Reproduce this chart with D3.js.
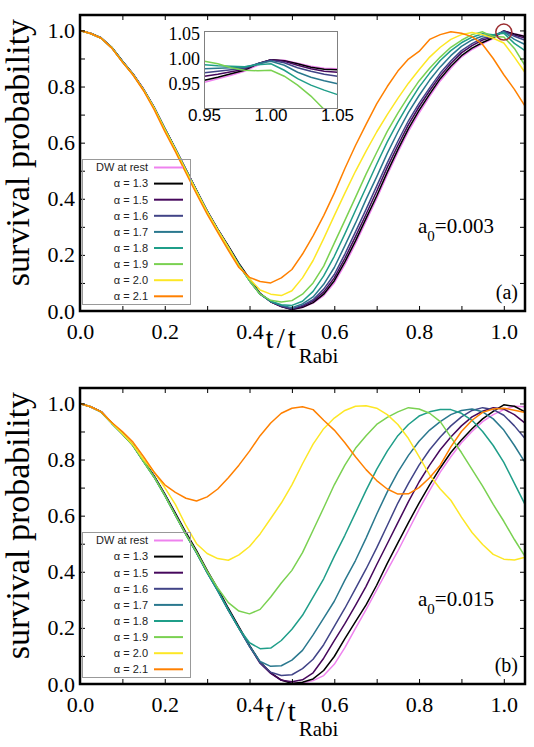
<!DOCTYPE html>
<html>
<head>
<meta charset="UTF-8">
<title>survival probability</title>
<script src="https://cdn.jsdelivr.net/npm/d3@7"></script>
<style>
body { margin: 0; background: #fff; }
svg { display: block; }
</style>
</head>
<body>
<div id="chart"></div>
<script>
// time axis, t/t_Rabi
var tValues = [0, 0.025, 0.05, 0.075, 0.1, 0.125, 0.15, 0.175, 0.2, 0.225, 0.25, 0.275, 0.3, 0.325, 0.35, 0.375, 0.4, 0.425, 0.45, 0.475, 0.5,
  0.525, 0.55, 0.575, 0.6, 0.625, 0.65, 0.675, 0.7, 0.725, 0.75, 0.775, 0.8, 0.825, 0.85, 0.875, 0.9, 0.925, 0.95, 0.975, 1.0, 1.025, 1.05];

var seriesNames = ["DW at rest", "\u03b1 = 1.3", "\u03b1 = 1.5", "\u03b1 = 1.6", "\u03b1 = 1.7", "\u03b1 = 1.8", "\u03b1 = 1.9", "\u03b1 = 2.0", "\u03b1 = 2.1"];
var seriesColors = ["#ee82ee", "#000000", "#46085c", "#414487", "#2a788e", "#1f9e89", "#7ad151", "#fde725", "#ff8000"];

// panel (a), a0 = 0.003
var aRest = [1.000, 0.990, 0.972, 0.938, 0.890, 0.846, 0.792, 0.727, 0.652, 0.580, 0.506, 0.431, 0.358, 0.292, 0.230, 0.166, 0.108, 0.062, 0.034, 0.017, 0.006, 0.012, 0.028, 0.055, 0.100, 0.165, 0.240, 0.320, 0.400, 0.485, 0.565, 0.640, 0.705, 0.765, 0.820, 0.865, 0.905, 0.932, 0.953, 0.971, 0.998, 0.988, 0.980];
var a13 = [1.000, 0.990, 0.974, 0.940, 0.891, 0.845, 0.790, 0.725, 0.650, 0.578, 0.503, 0.429, 0.357, 0.292, 0.232, 0.170, 0.115, 0.063, 0.033, 0.016, 0.005, 0.013, 0.030, 0.060, 0.108, 0.175, 0.250, 0.330, 0.410, 0.495, 0.575, 0.650, 0.715, 0.773, 0.828, 0.872, 0.910, 0.937, 0.957, 0.974, 0.998, 0.987, 0.978];
var a15 = [1.000, 0.989, 0.973, 0.939, 0.890, 0.845, 0.790, 0.726, 0.651, 0.579, 0.504, 0.430, 0.356, 0.291, 0.229, 0.166, 0.110, 0.061, 0.033, 0.016, 0.006, 0.016, 0.035, 0.068, 0.118, 0.188, 0.265, 0.345, 0.427, 0.512, 0.590, 0.664, 0.728, 0.785, 0.838, 0.882, 0.920, 0.946, 0.966, 0.977, 0.998, 0.984, 0.973];
var a16 = [1.000, 0.989, 0.972, 0.939, 0.889, 0.844, 0.789, 0.725, 0.650, 0.578, 0.503, 0.429, 0.355, 0.290, 0.228, 0.165, 0.109, 0.060, 0.034, 0.018, 0.008, 0.020, 0.040, 0.078, 0.130, 0.203, 0.282, 0.362, 0.445, 0.528, 0.605, 0.678, 0.740, 0.795, 0.848, 0.891, 0.928, 0.953, 0.972, 0.980, 0.997, 0.979, 0.965];
var a17 = [1.000, 0.989, 0.972, 0.938, 0.889, 0.844, 0.789, 0.724, 0.649, 0.577, 0.502, 0.428, 0.354, 0.289, 0.227, 0.164, 0.108, 0.060, 0.034, 0.020, 0.012, 0.025, 0.050, 0.095, 0.155, 0.233, 0.313, 0.398, 0.478, 0.562, 0.638, 0.708, 0.768, 0.823, 0.870, 0.910, 0.943, 0.966, 0.980, 0.983, 0.995, 0.968, 0.950];
var a18 = [1.000, 0.989, 0.972, 0.938, 0.889, 0.843, 0.788, 0.724, 0.649, 0.577, 0.502, 0.427, 0.354, 0.289, 0.227, 0.164, 0.108, 0.060, 0.035, 0.022, 0.020, 0.035, 0.070, 0.125, 0.195, 0.275, 0.358, 0.440, 0.523, 0.603, 0.673, 0.738, 0.798, 0.848, 0.893, 0.928, 0.956, 0.976, 0.988, 0.985, 0.990, 0.954, 0.928];
var a19 = [1.000, 0.989, 0.972, 0.938, 0.888, 0.843, 0.788, 0.723, 0.648, 0.576, 0.501, 0.427, 0.353, 0.288, 0.226, 0.163, 0.108, 0.060, 0.038, 0.032, 0.037, 0.060, 0.100, 0.160, 0.242, 0.323, 0.405, 0.488, 0.565, 0.640, 0.705, 0.765, 0.820, 0.865, 0.905, 0.940, 0.965, 0.985, 0.995, 0.978, 0.977, 0.936, 0.875];
var a20 = [1.000, 0.989, 0.972, 0.938, 0.888, 0.843, 0.788, 0.723, 0.647, 0.575, 0.500, 0.426, 0.353, 0.288, 0.227, 0.160, 0.115, 0.075, 0.060, 0.055, 0.072, 0.118, 0.180, 0.258, 0.340, 0.420, 0.498, 0.570, 0.638, 0.700, 0.758, 0.812, 0.860, 0.905, 0.940, 0.968, 0.985, 0.993, 0.985, 0.972, 0.955, 0.905, 0.850];
var a21 = [1.000, 0.989, 0.972, 0.937, 0.887, 0.841, 0.785, 0.718, 0.640, 0.568, 0.492, 0.417, 0.345, 0.280, 0.216, 0.155, 0.120, 0.105, 0.100, 0.118, 0.148, 0.203, 0.268, 0.340, 0.420, 0.508, 0.590, 0.665, 0.738, 0.800, 0.855, 0.898, 0.925, 0.968, 0.985, 0.995, 0.990, 0.978, 0.950, 0.900, 0.842, 0.790, 0.730];

// panel (b), a0 = 0.015
var bRest = [1.000, 0.988, 0.970, 0.931, 0.893, 0.852, 0.796, 0.741, 0.677, 0.607, 0.538, 0.472, 0.403, 0.338, 0.268, 0.202, 0.137, 0.077, 0.040, 0.015, 0.004, 0.004, 0.012, 0.030, 0.070, 0.130, 0.198, 0.265, 0.335, 0.405, 0.474, 0.548, 0.622, 0.690, 0.755, 0.810, 0.860, 0.900, 0.935, 0.960, 0.978, 0.990, 0.988];
var b13 = [1.000, 0.988, 0.971, 0.930, 0.893, 0.853, 0.797, 0.742, 0.678, 0.609, 0.540, 0.475, 0.405, 0.340, 0.270, 0.204, 0.138, 0.078, 0.040, 0.014, 0.002, 0.006, 0.018, 0.048, 0.098, 0.162, 0.222, 0.282, 0.352, 0.430, 0.503, 0.575, 0.645, 0.710, 0.770, 0.825, 0.870, 0.910, 0.945, 0.972, 0.995, 0.990, 0.970];
var b15 = [1.000, 0.988, 0.970, 0.930, 0.892, 0.851, 0.794, 0.739, 0.674, 0.604, 0.534, 0.469, 0.399, 0.334, 0.264, 0.199, 0.134, 0.074, 0.038, 0.013, 0.008, 0.015, 0.040, 0.092, 0.155, 0.215, 0.280, 0.348, 0.425, 0.500, 0.575, 0.650, 0.720, 0.780, 0.835, 0.880, 0.920, 0.952, 0.972, 0.985, 0.980, 0.960, 0.930];
var b16 = [1.000, 0.988, 0.970, 0.930, 0.892, 0.851, 0.794, 0.738, 0.673, 0.603, 0.533, 0.468, 0.398, 0.333, 0.263, 0.199, 0.134, 0.076, 0.042, 0.030, 0.033, 0.055, 0.088, 0.140, 0.205, 0.270, 0.340, 0.410, 0.485, 0.565, 0.645, 0.715, 0.780, 0.835, 0.880, 0.920, 0.952, 0.975, 0.985, 0.978, 0.958, 0.920, 0.875];
var b17 = [1.000, 0.988, 0.969, 0.929, 0.891, 0.850, 0.793, 0.737, 0.672, 0.602, 0.532, 0.467, 0.397, 0.332, 0.262, 0.198, 0.135, 0.080, 0.063, 0.065, 0.085, 0.120, 0.175, 0.235, 0.295, 0.370, 0.440, 0.520, 0.605, 0.685, 0.755, 0.815, 0.865, 0.905, 0.935, 0.960, 0.975, 0.980, 0.970, 0.945, 0.905, 0.850, 0.790];
var b18 = [1.000, 0.988, 0.969, 0.929, 0.891, 0.850, 0.793, 0.737, 0.672, 0.602, 0.532, 0.467, 0.397, 0.333, 0.265, 0.198, 0.147, 0.126, 0.128, 0.155, 0.195, 0.245, 0.310, 0.375, 0.455, 0.530, 0.610, 0.690, 0.765, 0.830, 0.885, 0.925, 0.955, 0.970, 0.978, 0.978, 0.965, 0.940, 0.900, 0.850, 0.790, 0.715, 0.640];
var b19 = [1.000, 0.988, 0.969, 0.929, 0.891, 0.850, 0.793, 0.737, 0.672, 0.602, 0.533, 0.470, 0.402, 0.342, 0.290, 0.260, 0.250, 0.266, 0.310, 0.360, 0.405, 0.468, 0.548, 0.628, 0.710, 0.780, 0.840, 0.885, 0.925, 0.950, 0.970, 0.985, 0.980, 0.965, 0.935, 0.880, 0.825, 0.765, 0.705, 0.640, 0.580, 0.515, 0.455];
var b20 = [1.000, 0.988, 0.970, 0.930, 0.893, 0.853, 0.800, 0.755, 0.700, 0.640, 0.565, 0.500, 0.465, 0.447, 0.441, 0.460, 0.490, 0.535, 0.590, 0.645, 0.710, 0.785, 0.855, 0.910, 0.948, 0.975, 0.990, 0.992, 0.983, 0.960, 0.925, 0.875, 0.810, 0.745, 0.695, 0.655, 0.595, 0.540, 0.497, 0.462, 0.445, 0.442, 0.452];
var b21 = [1.000, 0.988, 0.970, 0.932, 0.900, 0.862, 0.810, 0.755, 0.710, 0.683, 0.662, 0.652, 0.667, 0.695, 0.735, 0.780, 0.830, 0.885, 0.930, 0.965, 0.983, 0.988, 0.978, 0.940, 0.905, 0.860, 0.810, 0.764, 0.725, 0.695, 0.677, 0.678, 0.700, 0.735, 0.780, 0.845, 0.900, 0.940, 0.968, 0.980, 0.983, 0.976, 0.968];

// inset of panel (a), around t = 1
var insetT = [0.95, 0.96, 0.97, 0.98, 0.99, 1.00, 1.01, 1.02, 1.03, 1.04, 1.05];
var insRest = [0.953, 0.960, 0.967, 0.975, 0.987, 0.998, 0.997, 0.991, 0.985, 0.981, 0.980];
var ins13 = [0.957, 0.963, 0.970, 0.977, 0.990, 0.998, 0.996, 0.990, 0.983, 0.979, 0.978];
var ins15 = [0.965, 0.969, 0.974, 0.979, 0.990, 0.998, 0.995, 0.987, 0.980, 0.975, 0.973];
var ins16 = [0.972, 0.975, 0.978, 0.981, 0.990, 0.997, 0.992, 0.982, 0.975, 0.969, 0.965];
var ins17 = [0.980, 0.981, 0.982, 0.983, 0.990, 0.995, 0.987, 0.973, 0.963, 0.956, 0.950];
var ins18 = [0.988, 0.986, 0.985, 0.984, 0.988, 0.990, 0.977, 0.960, 0.947, 0.937, 0.928];
var ins19 = [0.995, 0.990, 0.982, 0.977, 0.976, 0.977, 0.965, 0.947, 0.925, 0.898, 0.870];

var xTicks = [0, 0.1, 0.2, 0.3, 0.4, 0.5, 0.6, 0.7, 0.8, 0.9, 1.0];
var yTicks = [0, 0.1, 0.2, 0.3, 0.4, 0.5, 0.6, 0.7, 0.8, 0.9, 1.0];
var insetXTicks = [0.95, 1.00, 1.05];
var insetYTicks = [0.95, 1.00, 1.05];

// marked point (circle) in panel (a)
var markT = 1.0, markV = 0.994;

var SERIF = "'Liberation Serif', 'Times New Roman', Times, 'DejaVu Serif', serif";
var SANS = "'Liberation Sans', Arial, Helvetica, sans-serif";

var W = 534, H = 747;
var svg = d3.select("#chart").append("svg")
  .attr("width", W)
  .attr("height", H);

var fmt1 = d3.format(".1f");
function evenLabel(d) {
  return Math.round(d * 10) % 2 === 0 ? fmt1(d) : "";
}

function drawPanel(top, data, a0text, tag) {
  var x = d3.scaleLinear().domain([0, 1.05]).range([80, 525]);
  var y = d3.scaleLinear().domain([0, 1.055]).range([top + 296, top]);
  var g = svg.append("g");

  var line = d3.line()
    .x(function(d){ return x(d[0]); })
    .y(function(d){ return y(d[1]); });

  data.forEach(function(vals, i){
    g.append("path")
      .datum(d3.zip(tValues, vals))
      .attr("d", line)
      .attr("fill", "none")
      .attr("stroke", seriesColors[i])
      .attr("stroke-width", 1.5)
      .attr("stroke-linejoin", "round");
  });

  // axes, ticks pointing inwards on all four sides
  var bottom = g.append("g").attr("transform", "translate(0," + (top + 296) + ")")
    .call(d3.axisBottom(x).tickValues(xTicks).tickSize(-5).tickPadding(12).tickFormat(evenLabel));
  var left = g.append("g").attr("transform", "translate(80,0)")
    .call(d3.axisLeft(y).tickValues(yTicks).tickSize(-5).tickPadding(5).tickFormat(evenLabel));
  var topAx = g.append("g").attr("transform", "translate(0," + top + ")")
    .call(d3.axisTop(x).tickValues(xTicks).tickSize(-5).tickFormat(""));
  var right = g.append("g").attr("transform", "translate(525,0)")
    .call(d3.axisRight(y).tickValues(yTicks).tickSize(-5).tickFormat(""));
  [bottom, left, topAx, right].forEach(function(ax){
    ax.attr("font-family", null).attr("font-size", null);
    ax.select(".domain").remove();
    ax.selectAll(".tick line").attr("stroke", "#000").attr("stroke-width", 1);
    ax.selectAll(".tick text")
      .style("font-family", SERIF)
      .style("font-size", "22px")
      .attr("fill", "#000");
  });

  g.append("rect")
    .attr("x", 80).attr("y", top)
    .attr("width", 445).attr("height", 296)
    .attr("fill", "none")
    .attr("stroke", "#000")
    .attr("stroke-width", 2.5);

  // legend
  var lg = g.append("g");
  lg.append("rect")
    .attr("x", 82.5).attr("y", top + 144.5)
    .attr("width", 108).attr("height", 145)
    .attr("fill", "none")
    .attr("stroke", "#999")
    .attr("stroke-width", 1);
  seriesNames.forEach(function(name, i){
    var yy = top + 152.5 + i * 16.1;
    lg.append("text")
      .attr("x", 148).attr("y", yy)
      .attr("dy", "0.35em")
      .attr("text-anchor", "end")
      .style("font-family", SANS)
      .style("font-size", "11px")
      .attr("fill", "#222")
      .text(name);
    lg.append("line")
      .attr("x1", 154).attr("x2", 183)
      .attr("y1", yy).attr("y2", yy)
      .attr("stroke", seriesColors[i])
      .attr("stroke-width", 2);
  });

  // axis titles
  g.append("text")
    .attr("transform", "translate(29," + (top + 137.5) + ") rotate(-90)")
    .attr("text-anchor", "middle")
    .style("font-family", SERIF)
    .style("font-size", "34px")
    .text("survival probability");

  var xt = g.append("text")
    .attr("x", 302).attr("y", top + 333)
    .attr("text-anchor", "middle")
    .style("font-family", SERIF)
    .style("font-size", "29px");
  xt.append("tspan").style("letter-spacing", "3px").text("t/t");
  xt.append("tspan").attr("dy", 15).style("font-size", "21px").text("Rabi");

  // annotations
  var an = g.append("text")
    .attr("x", 418).attr("y", top + 218)
    .style("font-family", SERIF)
    .style("font-size", "21px");
  an.append("tspan").text("a");
  an.append("tspan").attr("dy", 8).style("font-size", "15px").text("0");
  an.append("tspan").attr("dy", -8).text(a0text);

  g.append("text")
    .attr("x", 518).attr("y", top + 284)
    .attr("text-anchor", "end")
    .style("font-family", SERIF)
    .style("font-size", "20px")
    .text(tag);

  return { x: x, y: y, g: g };
}

var pa = drawPanel(15, [aRest, a13, a15, a16, a17, a18, a19, a20, a21], "=0.003", "(a)");
var pb = drawPanel(388, [bRest, b13, b15, b16, b17, b18, b19, b20, b21], "=0.015", "(b)");

// circle around the t = 1 revival in panel (a)
pa.g.append("circle")
  .attr("cx", pa.x(markT))
  .attr("cy", pa.y(markV))
  .attr("r", 8)
  .attr("fill", "none")
  .attr("stroke", "#9b2d30")
  .attr("stroke-width", 1.5);

// inset
var xi = d3.scaleLinear().domain([0.95, 1.05]).range([204.5, 337.5]);
var yi = d3.scaleLinear().domain([0.90, 1.055]).range([108.5, 31.5]);
var ig = svg.append("g");
ig.append("clipPath").attr("id", "insetClip")
  .append("rect")
  .attr("x", 204.5).attr("y", 31.5)
  .attr("width", 133).attr("height", 77);
ig.append("rect")
  .attr("x", 204.5).attr("y", 31.5)
  .attr("width", 133).attr("height", 77)
  .attr("fill", "#fff");

var insetLine = d3.line()
  .x(function(d){ return xi(d[0]); })
  .y(function(d){ return yi(d[1]); });
var insetData = [insRest, ins13, ins15, ins16, ins17, ins18, ins19];
var il = ig.append("g").attr("clip-path", "url(#insetClip)");
insetData.forEach(function(vals, i){
  il.append("path")
    .datum(d3.zip(insetT, vals))
    .attr("d", insetLine)
    .attr("fill", "none")
    .attr("stroke", seriesColors[i])
    .attr("stroke-width", 1.5);
});
ig.append("rect")
  .attr("x", 204.5).attr("y", 31.5)
  .attr("width", 133).attr("height", 77)
  .attr("fill", "none")
  .attr("stroke", "#808080")
  .attr("stroke-width", 1);

var fmt2 = d3.format(".2f");
ig.selectAll(".iy").data(insetYTicks).enter().append("text")
  .attr("x", 200)
  .attr("y", function(d){ return yi(d); })
  .attr("dy", "0.35em")
  .attr("text-anchor", "end")
  .style("font-family", SERIF)
  .style("font-size", "18px")
  .text(function(d){ return fmt2(d); });
ig.selectAll(".ix").data(insetXTicks).enter().append("text")
  .attr("x", function(d){ return xi(d); })
  .attr("y", 121)
  .attr("text-anchor", "middle")
  .style("font-family", SANS)
  .style("font-size", "17px")
  .text(function(d){ return fmt2(d); });
</script>
</body>
</html>
